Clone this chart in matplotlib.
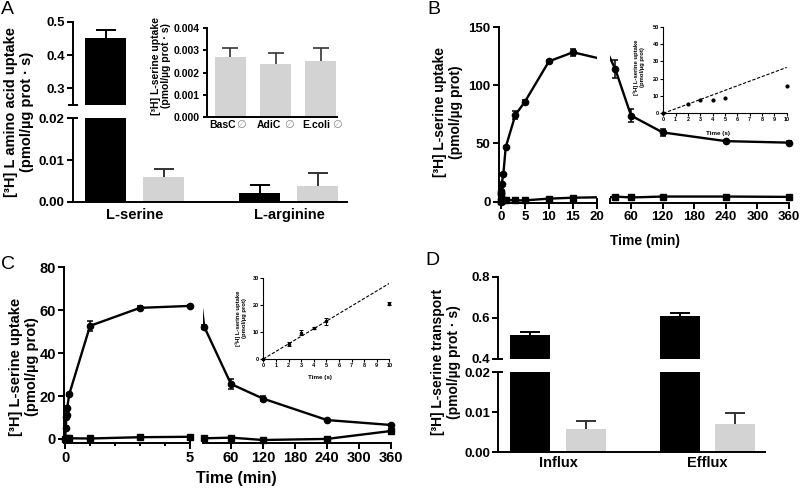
import matplotlib
matplotlib.use('Agg')
import matplotlib.pyplot as plt
from matplotlib.lines import Line2D

plt.rcParams['font.family'] = ['Liberation Sans', 'DejaVu Sans']
plt.rcParams['font.weight'] = 'bold'
plt.rcParams['axes.labelweight'] = 'bold'

W, H = 800, 491
LW = 1.4
GRAY = '#d3d3d3'
EGRAY = '#333333'

# ---------------- data ----------------
# Panel A (main)
A_groups = ['L-serine', 'L-arginine']
A_black = [0.451, 0.0021]
A_black_err = [0.026, 0.0020]
A_gray = [0.0059, 0.0039]
A_gray_err = [0.0020, 0.0030]
# Panel A (inset)
Ai_labels = ['BasC', 'AdiC', 'E.coli']
Ai_vals = [0.0027, 0.0024, 0.0025]
Ai_err = [0.0004, 0.0005, 0.0006]

# Panel B (time in min)
B_t_c = [0, 0.033, 0.05, 0.067, 0.083, 0.167, 0.5, 1, 3, 5, 10, 15, 30, 60, 120, 240, 360]
B_c = [0, 5.2, 7.7, 7.7, 9.1, 15.5, 23.5, 46.8, 74.5, 86.0, 120.7, 128.5, 114.0, 74.0, 59.5, 52.0, 50.7]
B_c_err = [0, 0.5, 0.8, 0.5, 0.5, 0.5, 1.0, 1.0, 3.5, 1.5, 1.5, 3.0, 8.0, 5.5, 3.0, 1.0, 1.0]
B_t_s = [0, 0.083, 0.5, 1, 3, 5, 10, 15, 30, 60, 120, 240, 360]
B_s = [0.3, 0.8, 1.2, 1.5, 1.0, 1.0, 2.5, 3.3, 4.3, 3.5, 4.3, 4.3, 4.0]
# Panel B inset (time in s)
Bi_t = [0, 2, 3, 4, 5, 10]
Bi_v = [0, 5.2, 7.7, 7.7, 9.1, 15.5]
Bi_fit_t = [0, 10]
Bi_fit_v = [0, 26.5]

# Panel C (time in min)
C_t_c = [0, 0.033, 0.05, 0.067, 0.083, 0.167, 1, 3, 5, 10, 60, 120, 240, 360]
C_c = [0, 5.3, 10.4, 11.3, 14.3, 20.8, 52.7, 61.1, 62.0, 52.2, 25.6, 18.8, 8.8, 6.5]
C_c_err = [0, 0.7, 1.0, 0.5, 1.2, 0.6, 2.5, 0.8, 0.5, 0.8, 2.3, 1.2, 0.5, 0.5]
C_t_s = [0, 0.083, 0.167, 1, 3, 5, 10, 60, 120, 240, 360]
C_s = [0, 0.2, 0.3, 0.2, 0.8, 1.0, 0.3, 0.6, -0.5, 0.0, 3.7]
# Panel C inset (time in s)
Ci_t = [0, 2, 3, 4, 5, 10]
Ci_v = [0, 5.5, 9.8, 11.5, 14.0, 20.5]
Ci_err = [0, 0.7, 1.0, 0.5, 1.2, 0.6]
Ci_fit_t = [0, 10]
Ci_fit_v = [0, 28.1]

# Panel D
D_groups = ['Influx', 'Efflux']
D_black = [0.517, 0.608]
D_black_err = [0.015, 0.016]
D_gray = [0.0058, 0.0070]
D_gray_err = [0.0021, 0.0029]

# ---------------- helpers ----------------
fig = plt.figure(figsize=(W / 100, H / 100), dpi=100)


def add_ax(x0, y0, x1, y1, lw=LW, fs=9.5, tl=4):
    ax = fig.add_axes([x0 / W, 1 - y1 / H, (x1 - x0) / W, (y1 - y0) / H])
    ax.patch.set_alpha(0)
    for s in ('top', 'right'):
        ax.spines[s].set_visible(False)
    for s in ('left', 'bottom'):
        ax.spines[s].set_linewidth(lw)
    ax.tick_params(direction='out', length=tl, width=lw, labelsize=fs, pad=2)
    return ax


def fig_line(xs, ys, lw=LW):
    fig.add_artist(Line2D([x / W for x in xs], [1 - y / H for y in ys],
                          transform=fig.transFigure, color='k', lw=lw,
                          solid_capstyle='butt'))


def fig_text(x, y, s, **kw):
    fig.text(x / W, 1 - y / H, s, **kw)


def noclip(cont):
    for a in cont.get_children():
        a.set_clip_on(False)


def up_err(ax, x, v, e, color, cap_pt, lw=LW):
    tops = [a + b for a, b in zip(v, e)]
    ax.vlines(x, v, tops, colors=color, lw=lw, zorder=1)
    ax.plot(x, tops, ls='none', marker='_', ms=cap_pt, mew=lw, color=color, zorder=1)


def series(ax, t, v, err, marker, ms, xlim, cap=2.5):
    ax.plot(t, v, '-', color='k', lw=1.7, zorder=2)
    pts = [(a, b, c) for a, b, c in zip(t, v, err) if xlim[0] <= a <= xlim[1]]
    tt = [p[0] for p in pts]
    vv = [p[1] for p in pts]
    ee = [p[2] for p in pts]
    c = ax.errorbar(tt, vv, yerr=ee, fmt=marker, ms=ms, color='k', ecolor='k',
                    elinewidth=1.1, capsize=cap, capthick=1.1, zorder=3)
    noclip(c)


# ---------------- Panel A ----------------
posA_b = [0, 2.66]
posA_g = [1, 3.66]
wA = 0.707
axAu = add_ax(73, 22, 347, 105)
axAl = add_ax(73, 118.3, 347, 202)
for ax in (axAu, axAl):
    ax.bar(posA_b, A_black, width=wA, color='k', zorder=2)
    ax.bar(posA_g, A_gray, width=wA, color=GRAY, zorder=2)
    up_err(ax, posA_b, A_black, A_black_err, 'k', 14)
    up_err(ax, posA_g, A_gray, A_gray_err, EGRAY, 14)
    ax.set_xlim(-0.56, 4.16)
axAu.set_ylim(0.25, 0.5)
axAu.set_yticks([0.3, 0.4, 0.5])
axAu.set_yticklabels(['0.3', '0.4', '0.5'])
axAu.spines['bottom'].set_visible(False)
axAu.set_xticks([])
axAl.set_ylim(0, 0.02)
axAl.set_yticks([0, 0.01, 0.02])
axAl.set_yticklabels(['0.00', '0.01', '0.02'])
axAl.set_xticks([0.5, 3.16])
axAl.set_xticklabels(A_groups, fontsize=10.5)
axAl.tick_params(axis='x', length=0, pad=4)
fig_line([68, 78], [105, 105])
fig_line([68, 78], [118.3, 118.3])
fig_text(19, 112, '[³H] L amino acid uptake\n(pmol/µg prot · s)', rotation=90,
         ha='center', va='center', fontsize=10.5, linespacing=1.1)

# inset A
axAi = add_ax(207, 28, 337, 117.3, fs=7.5, tl=3)
axAi.bar([0, 1, 2], Ai_vals, width=0.68, color=GRAY, zorder=2)
up_err(axAi, [0, 1, 2], Ai_vals, Ai_err, EGRAY, 12, lw=1.2)
axAi.set_xlim(-0.52, 2.36)
axAi.set_ylim(0, 0.004)
axAi.set_yticks([0, 0.001, 0.002, 0.003, 0.004])
axAi.set_yticklabels(['0.000', '0.001', '0.002', '0.003', '0.004'])
axAi.set_xticks([])
name_off = [-0.17, -0.15, -0.10]
sym_off = [0.23, 0.29, 0.37]
for i, lab in enumerate(Ai_labels):
    axAi.text(i + name_off[i], -0.00012, lab, ha='center', va='top', fontsize=7.5,
              transform=axAi.transData)
    axAi.text(i + sym_off[i], -0.00010, '∅', ha='center', va='top', fontsize=8,
              color='#8a8a8a', fontweight='normal', transform=axAi.transData)
fig_text(161, 66, '[³H] L-serine uptake\n(pmol/µg prot · s)', rotation=90,
         ha='center', va='center', fontsize=7.5, linespacing=1.1)

# ---------------- Panel B ----------------
B_xl = (-0.4, 20)
B_xr = (20, 360)
axBl = add_ax(499, 27.3, 597, 202.7)
axBr = add_ax(610, 27.3, 789, 202.7)
for ax, xl in ((axBl, B_xl), (axBr, B_xr)):
    ax.set_xlim(*xl)
    ax.set_ylim(-1, 150)
    series(ax, B_t_c, B_c, B_c_err, 'o', 4.5, xl)
    series(ax, B_t_s, B_s, [0] * len(B_s), 's', 4.2, xl)
axBl.set_yticks([0, 50, 100, 150])
axBl.set_xticks([0, 5, 10, 15, 20])
axBr.spines['left'].set_visible(False)
axBr.set_yticks([])
axBr.set_xticks([60, 120, 180, 240, 300, 360])
fig_line([597, 597], [202.7, 197.5])
fig_line([610, 610], [202.7, 197.5])
fig_text(448, 112, '[³H] L-serine uptake\n(pmol/µg prot)', rotation=90,
         ha='center', va='center', fontsize=10, linespacing=1.1)
fig_text(645, 241, 'Time (min)', ha='center', va='center', fontsize=10)

# inset B
axBi = add_ax(663.3, 26.7, 786.7, 113.3, lw=0.8, fs=4, tl=2)
axBi.plot(Bi_fit_t, Bi_fit_v, color='k', lw=0.8, dashes=(3, 1.5))
axBi.plot(Bi_t, Bi_v, 'o', ms=2, color='k', clip_on=False)
axBi.set_xlim(0, 10)
axBi.set_ylim(0, 50)
axBi.set_xticks(range(0, 11))
axBi.set_yticks([0, 10, 20, 30, 40, 50])
axBi.tick_params(pad=1)
fig_text(639, 67, '[³H] L-serine uptake\n(pmol/µg prot)', rotation=90,
         ha='center', va='center', fontsize=4.2, linespacing=1.1)
fig_text(718, 133, 'Time (s)', ha='center', va='center', fontsize=4.5)

# ---------------- Panel C ----------------
C_xl = (-0.03, 5)
C_xr = (7, 360)
axCl = add_ax(64.3, 267.3, 190, 443, fs=10.5)
axCr = add_ax(202.7, 267.3, 391, 443, fs=10.5)
for ax, xl in ((axCl, C_xl), (axCr, C_xr)):
    ax.set_xlim(*xl)
    ax.set_ylim(-1.9, 80)
    series(ax, C_t_c, C_c, C_c_err, 'o', 4.5, xl)
    series(ax, C_t_s, C_s, [0] * len(C_s), 's', 4.2, xl)
axCl.set_yticks([0, 20, 40, 60, 80])
axCl.set_xticks([0, 5])
axCl.set_xticks([1, 2, 3, 4], minor=True)
axCl.tick_params(axis='x', which='minor', length=2.5, width=LW)
axCr.spines['left'].set_visible(False)
axCr.set_yticks([])
axCr.set_xticks([60, 120, 180, 240, 300, 360])
fig_line([190, 190], [443, 437.8])
fig_line([202.7, 202.7], [443, 437.8])
fig_text(24, 367, '[³H] L-serine uptake\n(pmol/µg prot)', rotation=90,
         ha='center', va='center', fontsize=10.5, linespacing=1.1)
fig_text(236, 478, 'Time (min)', ha='center', va='center', fontsize=11.5)

# inset C
axCi = add_ax(263.3, 278.3, 389.3, 359, lw=0.8, fs=4, tl=2)
axCi.plot(Ci_fit_t, Ci_fit_v, color='k', lw=0.8, dashes=(3, 1.5))
ci = axCi.errorbar(Ci_t, Ci_v, yerr=Ci_err, fmt='s', ms=2, color='k', ecolor='k',
                   elinewidth=0.7, capsize=1.2, capthick=0.7)
noclip(ci)
axCi.set_xlim(0, 10)
axCi.set_ylim(0, 30)
axCi.set_xticks(range(0, 11))
axCi.set_yticks([0, 10, 20, 30])
axCi.tick_params(pad=1)
fig_text(241, 318, '[³H] L-serine uptake\n(pmol/µg prot)', rotation=90,
         ha='center', va='center', fontsize=4.2, linespacing=1.1)
fig_text(320, 377.5, 'Time (s)', ha='center', va='center', fontsize=4.5)

# ---------------- Panel D ----------------
posD_b = [0, 2.69]
posD_g = [1, 3.69]
wD = 0.72
axDu = add_ax(498.3, 276.7, 765, 358.7)
axDl = add_ax(498.3, 372.3, 765, 452.3)
for ax in (axDu, axDl):
    ax.bar(posD_b, D_black, width=wD, color='k', zorder=2)
    ax.bar(posD_g, D_gray, width=wD, color=GRAY, zorder=2)
    up_err(ax, posD_b, D_black, D_black_err, 'k', 14)
    up_err(ax, posD_g, D_gray, D_gray_err, EGRAY, 14)
    ax.set_xlim(-0.577, 4.23)
axDu.set_ylim(0.4, 0.8)
axDu.set_yticks([0.4, 0.6, 0.8])
axDu.set_yticklabels(['0.4', '0.6', '0.8'])
axDu.spines['bottom'].set_visible(False)
axDu.set_xticks([])
axDl.set_ylim(0, 0.02)
axDl.set_yticks([0, 0.01, 0.02])
axDl.set_yticklabels(['0.00', '0.01', '0.02'])
axDl.set_xticks([0.5, 3.19])
axDl.set_xticklabels(D_groups, fontsize=10.5)
axDl.tick_params(axis='x', length=0, pad=3)
fig_line([493.3, 503.3], [358.7, 358.7])
fig_line([493.3, 503.3], [372.3, 372.3])
fig_text(446, 362, '[³H] L-serine transport\n(pmol/µg prot · s)', rotation=90,
         ha='center', va='center', fontsize=10, linespacing=1.1)

# ---------------- panel letters ----------------
for (x, y, s) in ((1, 1, 'A'), (427, 1, 'B'), (1, 256, 'C'), (425, 252, 'D')):
    fig_text(x, y, s, ha='left', va='top', fontsize=14, fontweight='normal')

fig.savefig('out.png', dpi=100)
